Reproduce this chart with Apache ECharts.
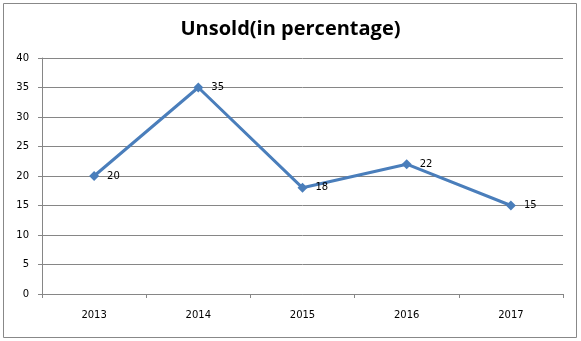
<!DOCTYPE html>
<html><head><meta charset="utf-8">
<script src="https://cdn.jsdelivr.net/npm/echarts@6/dist/echarts.min.js"></script>
<style>html,body{margin:0;padding:0;background:#fff}#c{width:581px;height:341px}</style>
</head><body><div id="c"></div>
<script>
var categories = ['2013','2014','2015','2016','2017'];
var unsold = [20, 35, 18, 22, 15];
var yTicks = {min: 0, max: 40, interval: 5};
var titleText = 'Unsold(in percentage)';

var chart = echarts.init(document.getElementById('c'), null, {renderer:'canvas'});
chart.setOption({
  backgroundColor: '#fff',
  animation: false,
  title: {
    text: titleText, left: 'center', top: 14,
    textStyle: {fontFamily: 'Open Sans', fontWeight: 'bold', fontSize: 20, color: '#000'}
  },
  graphic: [{
    type: 'rect', shape: {x: 3.5, y: 3.5, width: 573, height: 334},
    style: {fill: 'none', stroke: '#888', lineWidth: 1}, silent: true
  }],
  grid: {left: 42, right: 18, top: 58, bottom: 47, containLabel: false},
  xAxis: {
    type: 'category', data: categories, boundaryGap: true,
    axisLine: {lineStyle: {color: '#868686', width: 1}},
    axisTick: {show: true, length: 4, inside: false, lineStyle: {color: '#868686'}},
    axisLabel: {color: '#000', fontFamily: 'DejaVu Sans', fontSize: 10, margin: 16}
  },
  yAxis: {
    type: 'value', min: yTicks.min, max: yTicks.max, interval: yTicks.interval,
    axisLine: {show: true, lineStyle: {color: '#868686', width: 1}},
    axisTick: {show: true, length: 4, lineStyle: {color: '#868686'}},
    axisLabel: {color: '#000', fontFamily: 'DejaVu Sans', fontSize: 10, margin: 13},
    splitLine: {show: true, lineStyle: {color: '#868686', width: 1}}
  },
  series: [{
    type: 'line', data: unsold,
    symbol: 'diamond', symbolSize: 10,
    lineStyle: {color: '#4a7ebb', width: 3},
    itemStyle: {color: '#4a7ebb'},
    label: {show: true, position: 'right', distance: 8, color: '#000', fontFamily: 'DejaVu Sans', fontSize: 10}
  }]
});
</script></body></html>
